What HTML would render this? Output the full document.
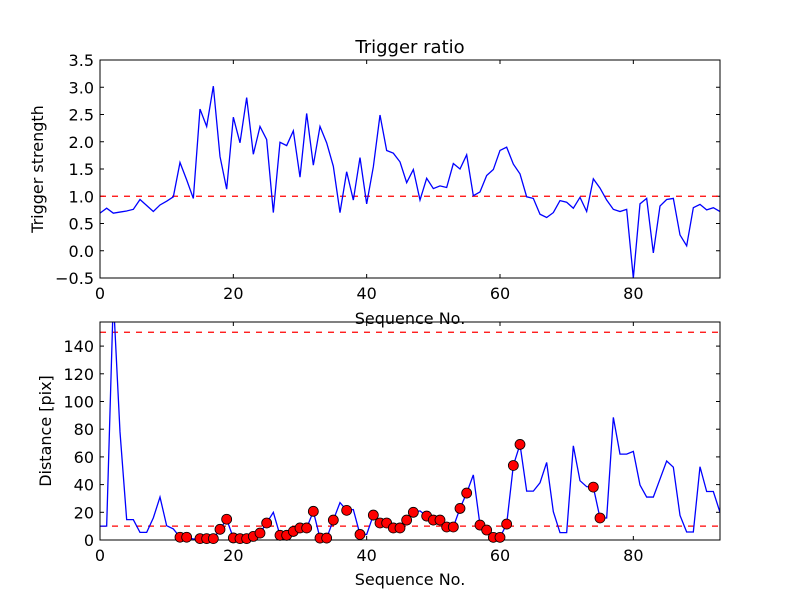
<!DOCTYPE html>
<html><head><meta charset="utf-8"><style>
html,body{margin:0;padding:0;background:#fff}
svg{display:block;font-family:"DejaVu Sans","Liberation Sans",sans-serif}
</style></head><body>
<svg id="fig" width="800" height="600" viewBox="0 0 800 600"></svg>
<script>
const trigger = [0.69,0.78,0.69,0.71,0.73,0.76,0.94,0.83,0.72,0.84,0.91,0.99,1.62,1.3,0.96,2.6,2.28,3.02,1.73,1.13,2.45,1.98,2.81,1.77,2.28,2.04,0.70,1.99,1.93,2.2,1.35,2.52,1.57,2.28,1.98,1.55,0.70,1.45,0.93,1.71,0.86,1.54,2.49,1.84,1.79,1.63,1.25,1.49,0.93,1.33,1.14,1.19,1.16,1.60,1.5,1.76,1.01,1.08,1.38,1.49,1.84,1.90,1.59,1.41,0.99,0.96,0.67,0.61,0.70,0.92,0.89,0.78,0.98,0.72,1.32,1.15,0.93,0.76,0.72,0.76,-0.5,0.86,0.96,-0.04,0.82,0.94,0.96,0.29,0.09,0.79,0.85,0.75,0.79,0.72];
const distance = [10,10,175,78,14.7,14.7,5.5,5.5,16,31,10.3,8,2,2,0.7,1,1,1,7.7,15,1.5,1,1,2.6,5,12.3,20,3.4,3.4,6.2,8.7,8.7,20.7,1.4,1.4,14.4,27,21.4,22,4,4,18,12.3,12.3,8.7,8.7,14.4,20,21,17.3,14.4,14.4,9.4,9.4,22.8,33.9,47,10.8,7.2,1.9,1.9,11.5,53.8,69,35.3,35.3,41.3,56,20.4,5.3,5.3,68,42.8,38.5,38.2,15.9,15.9,88.5,62,62,64,39.7,31,31,44,57,52.6,17.8,5.8,5.8,52.9,35,35,20];
const flagged = [12,13,15,16,17,18,19,20,21,22,23,24,25,27,28,29,30,31,32,33,34,35,37,39,41,42,43,44,45,46,47,49,50,51,52,53,54,55,57,58,59,60,61,62,63,74,75];
const xTicks = [0,20,40,60,80];
const topYTicks = [-0.5,0.0,0.5,1.0,1.5,2.0,2.5,3.0,3.5];
const botYTicks = [0,20,40,60,80,100,120,140];
const topThreshold = [1.0];
const botThresholds = [10,150];

const NS="http://www.w3.org/2000/svg";
const svg=document.getElementById('fig');
function mk(tag,attrs,parent){const e=document.createElementNS(NS,tag);for(const k in attrs)e.setAttribute(k,attrs[k]);(parent||svg).appendChild(e);return e;}

const X0=100,X1=720,XMAX=93;
const sx=v=>X0+(X1-X0)*v/XMAX;

function axes(name,top,bot,ymin,ymax,yticks,fmt){
  const sy=v=>bot-(bot-top)*(v-ymin)/(ymax-ymin);
  const g=mk('g',{});
  
  
  const clipId=name+'-clip';
  const cp=mk('clipPath',{id:clipId},g);mk('rect',{x:X0,y:top,width:X1-X0,height:bot-top},cp);
  xTicks.forEach(t=>{
    const x=sx(t);
    mk('line',{x1:x,x2:x,y1:bot,y2:bot-4,stroke:'#000'},g);
    mk('line',{x1:x,x2:x,y1:top,y2:top+4,stroke:'#000'},g);
    const tx=mk('text',{x:x,y:bot+21,'text-anchor':'middle','font-size':16},g);tx.textContent=t;
    
    
  });
  yticks.forEach(t=>{
    const y=sy(t);
    mk('line',{x1:X0,x2:X0+4,y1:y,y2:y,stroke:'#000'},g);
    mk('line',{x1:X1,x2:X1-4,y1:y,y2:y,stroke:'#000'},g);
    const tx=mk('text',{x:X0-6,y:y+6,'text-anchor':'end','font-size':16},g);tx.textContent=fmt(t);
    
    
  });
  const plot=mk('g',{'clip-path':'url(#'+clipId+')'},g);
  mk('rect',{x:X0,y:top,width:X1-X0,height:bot-top,fill:'none',stroke:'#000','stroke-width':1},g);
  return {sy,plot};
}

const A=axes('trigger-axes',60,278,-0.5,3.5,topYTicks,v=>v.toFixed(1).replace('-','\u2212'));
topThreshold.forEach(t=>{const l=mk('line',{x1:X0,x2:X1,y1:A.sy(t),y2:A.sy(t),stroke:'#f00','stroke-width':1.3,'stroke-dasharray':'6,6'},A.plot);

});
const p1=mk('polyline',{points:trigger.map((v,i)=>sx(i)+','+A.sy(v)).join(' '),fill:'none',stroke:'#00f','stroke-width':1.3},A.plot);



const B=axes('distance-axes',322,540,0,157.4,botYTicks,v=>String(v));
botThresholds.forEach(t=>{const l=mk('line',{x1:X0,x2:X1,y1:B.sy(t),y2:B.sy(t),stroke:'#f00','stroke-width':1.3,'stroke-dasharray':'6,6'},B.plot);

});
const p2=mk('polyline',{points:distance.map((v,i)=>sx(i)+','+B.sy(v)).join(' '),fill:'none',stroke:'#00f','stroke-width':1.3},B.plot);


flagged.forEach(i=>{const c=mk('circle',{cx:sx(i),cy:B.sy(distance[i]),r:5,fill:'#f00',stroke:'#000','stroke-width':0.8},svg);

});

function label(txt,x,y,size,name,rot){const t=mk('text',{x:x,y:y,'text-anchor':'middle','font-size':size});if(rot)t.setAttribute('transform','rotate(-90 '+x+' '+y+')');t.textContent=txt;

}
label('Trigger ratio',410,53,18,'chart-title');
label('Sequence No.',410,324,16,'top-x-axis-title');
label('Sequence No.',410,585,16,'bottom-x-axis-title');
label('Trigger strength',43,169,16,'top-y-axis-title',true);
label('Distance [pix]',51,431,16,'bottom-y-axis-title',true);
</script>
</body></html>
